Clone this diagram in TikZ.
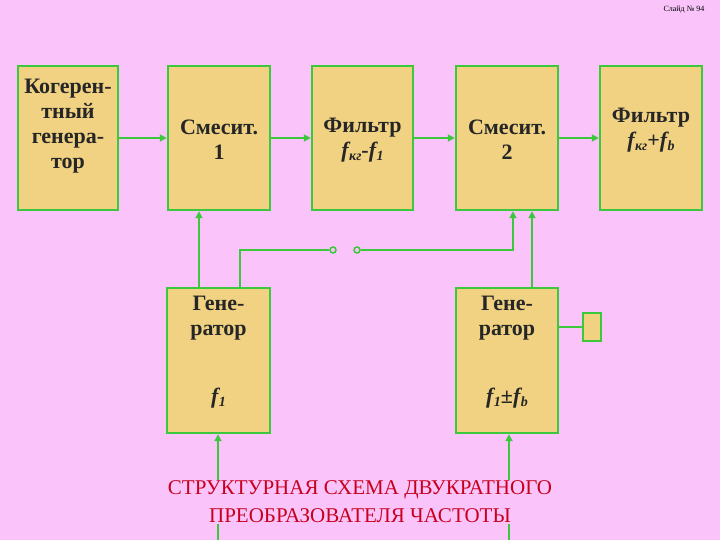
\documentclass[tikz,border=0pt]{standalone}
\usepackage{fontspec}
\setmainfont{Liberation Serif}
\usetikzlibrary{arrows.meta}
\definecolor{bg}{RGB}{250,196,250}
\definecolor{boxf}{RGB}{240,210,130}
\definecolor{gr}{RGB}{60,200,60}
\definecolor{tred}{RGB}{200,0,30}
\newcommand{\fsb}[1]{{\itshape f\kern0.5pt\raisebox{-0.35ex}{\fontsize{14}{14}\selectfont #1}}}
\tikzset{
 blk/.style={draw=gr,line width=2.4pt,fill=boxf,inner sep=0pt},
 lbl/.style={font=\bfseries\fontsize{22}{25}\selectfont,align=center,text=black!85},
 con/.style={draw=gr,line width=2.4pt},
 arr/.style={con,-{Triangle[length=7pt,width=7pt]}},
 sw/.style={circle,draw=gr,line width=1.5pt,fill=bg,inner sep=0pt,minimum size=6pt}
}
\begin{document}
\begin{tikzpicture}[x=1pt,y=-1pt]
\fill[bg] (0,0) rectangle (720,540);
\useasboundingbox (0,0) rectangle (720,540);
\node[font=\fontsize{8}{9}\selectfont] (sl) at (684,10) {Слайд № 94};
% top row
\node[blk,minimum width=100pt,minimum height=144pt] (b1) at (68,138) {};
\node[blk,minimum width=102pt,minimum height=144pt] (b2) at (219,138) {};
\node[blk,minimum width=101pt,minimum height=144pt] (b3) at (362.5,138) {};
\node[blk,minimum width=102pt,minimum height=144pt] (b4) at (507,138) {};
\node[blk,minimum width=102pt,minimum height=144pt] (b5) at (651,138) {};
\node[lbl] (t1) at (68,126) {Когерен-\\тный\\генера-\\тор};
\node[lbl] (t2) at (219,140) {Смесит.\\1};
\node[lbl] (t3) at (362.5,140) {Фильтр\\\fsb{кг}-\fsb{1}};
\node[lbl] (t4) at (507,140) {Смесит.\\2};
\node[lbl] (t5) at (651,130) {Фильтр\\\fsb{кг}+\fsb{b}};
% bottom row
\node[blk,minimum width=103pt,minimum height=145pt] (g1) at (218.5,360.5) {};
\node[blk,minimum width=102pt,minimum height=145pt] (g2) at (507,360.5) {};
\node[lbl] (u1) at (218.5,318) {Гене-\\ратор};
\node[lbl] (v1) at (218.5,398) {\fsb{1}};
\node[lbl] (u2) at (507,318) {Гене-\\ратор};
\node[lbl] (v2) at (507,398) {\fsb{1}±\fsb{b}};
\node[blk,minimum width=18pt,minimum height=28pt] (sm) at (592,327) {};
% connectors
\draw[arr] (b1.east) -- (b2.west);
\draw[arr] (b2.east) -- (b3.west);
\draw[arr] (b3.east) -- (b4.west);
\draw[arr] (b4.east) -- (b5.west);
\draw[arr] (g1.north -| 199,0) -- (b2.south -| 199,0);
\node[sw] (s1) at (333,250) {};
\node[sw] (s2) at (357,250) {};
\draw[con] (g1.north -| 240,0) |- (s1.west);
\draw[arr] (s2.east) -| (b4.south -| 513,0);
\draw[arr] (g2.north -| 532,0) -- (b4.south -| 532,0);
\draw[con] (g2.east |- sm.west) -- (sm.west);
\coordinate (in1) at (218,540);
\coordinate (in2) at (509,540);
\draw[arr] (in1) -- (g1.south -| in1);
\draw[arr] (in2) -- (g2.south -| in2);
\node[text=tred,font=\fontsize{21}{28}\selectfont,align=center,fill=bg,inner sep=1pt] (cap) at (360,502) {СТРУКТУРНАЯ СХЕМА ДВУКРАТНОГО\\ПРЕОБРАЗОВАТЕЛЯ ЧАСТОТЫ};
\end{tikzpicture}
\end{document}
